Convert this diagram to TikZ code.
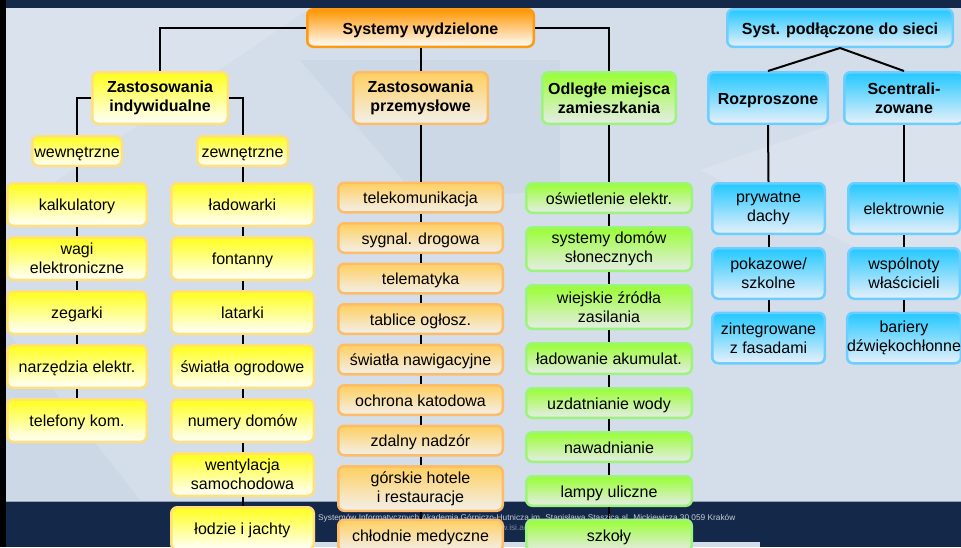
\documentclass[tikz,border=0pt]{standalone}
\usepackage{fontspec}
\setmainfont{Liberation Sans}
\usetikzlibrary{shadings}
\definecolor{bgA}{HTML}{D4DEEA}
\definecolor{bgB}{HTML}{DAE2ED}
\definecolor{bgC}{HTML}{CDD8E6}
\definecolor{navy}{HTML}{14284A}
\definecolor{yelT}{HTML}{FFFF1A}
\definecolor{yelB}{HTML}{FFE07A}
\definecolor{oraT}{HTML}{FFCF60}
\definecolor{oraD}{HTML}{FFBC66}
\definecolor{oraBot}{HTML}{F2F0EC}
\definecolor{greT}{HTML}{99FF33}
\definecolor{greD}{HTML}{9CF57A}
\definecolor{greBot}{HTML}{E6ECE8}
\definecolor{bluT}{HTML}{22C8FF}
\definecolor{bluD}{HTML}{6CCDFF}
\definecolor{bluBot}{HTML}{E8F0FA}
\definecolor{topT}{HTML}{FF9500}
\definecolor{topD}{HTML}{FF9A10}
\definecolor{foot}{HTML}{C5CEDB}
\begin{document}
\begin{tikzpicture}[x=1pt,y=-1pt,
  box/.style={draw, rounded corners=6pt, line width=2.5pt, align=center, inner sep=0pt,
    font=\fontsize{16}{19}\selectfont, text=black},
  hdr/.style={box, font=\bfseries\fontsize{16}{19}\selectfont},
  one/.style={text height=12pt, text depth=0pt},
  yel/.style={draw=yelB, top color=yelT, bottom color=white},
  ora/.style={draw=oraD, top color=oraT, bottom color=oraBot},
  gre/.style={draw=greD, top color=greT, bottom color=greBot},
  blu/.style={draw=bluD, top color=bluT, bottom color=bluBot},
  topo/.style={draw=topD, top color=topT, bottom color=white},
  cA/.style={minimum width=139.5pt, minimum height=42.5pt},
  cB/.style={minimum width=142.5pt, minimum height=42.5pt},
  cC/.style={minimum width=164.5pt, minimum height=29.5pt},
  cD/.style={minimum width=165.5pt, minimum height=29.5pt},
  cE/.style={minimum width=112.5pt, minimum height=50.5pt},
  ftxt/.style={text=foot, inner sep=0pt, font=\fontsize{8.3}{10}\selectfont},
  link/.style={draw=black, line width=2pt}]
\useasboundingbox (0,0) rectangle (961,547);
% background
\fill[bgA] (0,0) rectangle (961,547);
\fill[bgB] (6,8) -- (310,8) -- (6,215) -- cycle;
\fill[bgC] (300,60) -- (560,60) -- (560,190) -- (420,200) -- cycle;
\fill[bgC] (6,330) -- (140,500) -- (6,500) -- cycle;
\fill[bgB] (700,170) -- (961,80) -- (961,300) -- cycle;
\fill[navy] (0,0) rectangle (961,8);
\fill[navy] (0,501) rectangle (961,547);
\draw[color=bgC!70!navy, line width=1pt] (0,501) -- (961,501);
\fill[bgA] (200,542) rectangle (760,547);
\fill[black] (0,0) rectangle (6,547);
% footer text, second line (partly hidden by the boxes)
\node[anchor=east, ftxt, text opacity=0.6] (ft2) at (624,528)
  {www.isi.agh.edu.pl \quad isi@agh.edu.pl};
% header nodes
\node[hdr, topo, one, minimum width=226.5pt, minimum height=37.5pt] (sw) at (420.5,28) {Systemy wydzielone};
\node[hdr, yel, minimum width=135.5pt, minimum height=51.5pt] (ai) at (160,98) {Zastosowania\\indywidualne};
\node[hdr, ora, minimum width=134.5pt, minimum height=51.5pt] (ap) at (420.5,98) {Zastosowania\\przemysłowe};
\node[hdr, gre, minimum width=133.5pt, minimum height=51.5pt] (om) at (609,98) {Odległe miejsca\\zamieszkania};
\node[hdr, blu, one, minimum width=225.5pt, minimum height=37.5pt] (sp) at (840,28) {Syst. podłączone do sieci};
\node[hdr, blu, one, minimum width=119.5pt, minimum height=51.5pt] (rz) at (768,98) {Rozproszone};
\node[hdr, blu, minimum width=119.5pt, minimum height=51.5pt] (sc) at (904,98) {Scentrali-\\zowane};
\node[box, yel, one, minimum width=89.5pt, minimum height=29.5pt] (we) at (77,151) {wewnętrzne};
\node[box, yel, one, minimum width=90.5pt, minimum height=29.5pt] (ze) at (242.5,151) {zewnętrzne};
% column 1
\node[box, yel, one, cA] (a1) at (77,204.5) {kalkulatory};
\node[box, yel, cA] (a2) at (77,258.5) {wagi\\elektroniczne};
\node[box, yel, one, cA] (a3) at (77,312.5) {zegarki};
\node[box, yel, one, cA] (a4) at (77,366.5) {narzędzia elektr.};
\node[box, yel, one, cA] (a5) at (77,420.5) {telefony kom.};
% column 2
\node[box, yel, one, cB] (b1) at (242.5,204.5) {ładowarki};
\node[box, yel, one, cB] (b2) at (242.5,258.5) {fontanny};
\node[box, yel, one, cB] (b3) at (242.5,312.5) {latarki};
\node[box, yel, one, cB] (b4) at (242.5,366.5) {światła ogrodowe};
\node[box, yel, one, cB] (b5) at (242.5,420.5) {numery domów};
\node[box, yel, cB] (b6) at (242.5,474.5) {wentylacja\\samochodowa};
\node[box, yel, one, cB] (b7) at (242.5,528.5) {łodzie i jachty};
% column 3
\node[box, ora, one, cC] (c1) at (420.5,197.5) {telekomunikacja};
\node[box, ora, one, cC] (c2) at (420.5,238) {sygnal. drogowa};
\node[box, ora, one, cC] (c3) at (420.5,278.5) {telematyka};
\node[box, ora, one, cC] (c4) at (420.5,319) {tablice ogłosz.};
\node[box, ora, one, cC] (c5) at (420.5,359.5) {światła nawigacyjne};
\node[box, ora, one, cC] (c6) at (420.5,400) {ochrona katodowa};
\node[box, ora, one, cC] (c7) at (420.5,440.5) {zdalny nadzór};
\node[box, ora, cC, minimum height=44.5pt] (c8) at (420.5,488.5) {górskie hotele\\i restauracje};
\node[box, ora, one, cC, minimum height=31.5pt] (c9) at (420.5,535.5) {chłodnie medyczne};
% column 4
\node[box, gre, one, cD] (d1) at (609,198) {oświetlenie elektr.};
\node[box, gre, cD, minimum height=43.5pt] (d2) at (609,249) {systemy domów\\słonecznych};
\node[box, gre, cD, minimum height=43.5pt] (d3) at (609,307) {wiejskie źródła\\zasilania};
\node[box, gre, one, cD, minimum height=30.5pt] (d4) at (609,358.5) {ładowanie akumulat.};
\node[box, gre, one, cD] (d5) at (609,403) {uzdatnianie wody};
\node[box, gre, one, cD] (d6) at (609,447) {nawadnianie};
\node[box, gre, one, cD] (d7) at (609,491) {lampy uliczne};
\node[box, gre, one, cD, minimum height=31.5pt] (d8) at (609,535.5) {szkoły};
% column 5
\node[box, blu, cE] (e1) at (768.5,208.5) {prywatne\\dachy};
\node[box, blu, cE] (e2) at (768.5,273.5) {pokazowe/\\szkolne};
\node[box, blu, cE] (e3) at (768.5,338) {zintegrowane\\z fasadami};
% column 6
\node[box, blu, one, cE, minimum width=111.5pt] (f1) at (904,208.5) {elektrownie};
\node[box, blu, cE, minimum width=111.5pt] (f2) at (904,273.5) {wspólnoty\\właścicieli};
\node[box, blu, cE, minimum width=111.5pt] (f3) at (904,338) {bariery\\dźwiękochłonne};
% connectors
\draw[link] (sw.west) -| (ai.north);
\draw[link] (sw.east) -| (om.north);
\draw[link] (sw.south) -- (ap.north);
\draw[link] (sp.south) -- (rz.north);
\draw[link] (sp.south) -- (sc.north);
\draw[link] (ai.west) -| (we.north);
\draw[link] (ai.east) -| (ze.north);
\foreach \p/\q in {we/a1,a1/a2,a2/a3,a3/a4,a4/a5,
                   ze/b1,b1/b2,b2/b3,b3/b4,b4/b5,b5/b6,b6/b7,
                   ap/c1,c1/c2,c2/c3,c3/c4,c4/c5,c5/c6,c6/c7,c7/c8,c8/c9,
                   om/d1,d1/d2,d2/d3,d3/d4,d4/d5,d5/d6,d6/d7,d7/d8,
                   rz/e1,e1/e2,e2/e3,sc/f1,f1/f2,f2/f3}
  \draw[link] (\p.south) -- (\q.north);
% footer text, first line
\node[anchor=west, ftxt] (ft1) at (318,518)
  {Systemów Informatycznych Akademia Górniczo-Hutnicza im. Stanisława Staszica al. Mickiewicza 30 059 Kraków};
\end{tikzpicture}
\end{document}
